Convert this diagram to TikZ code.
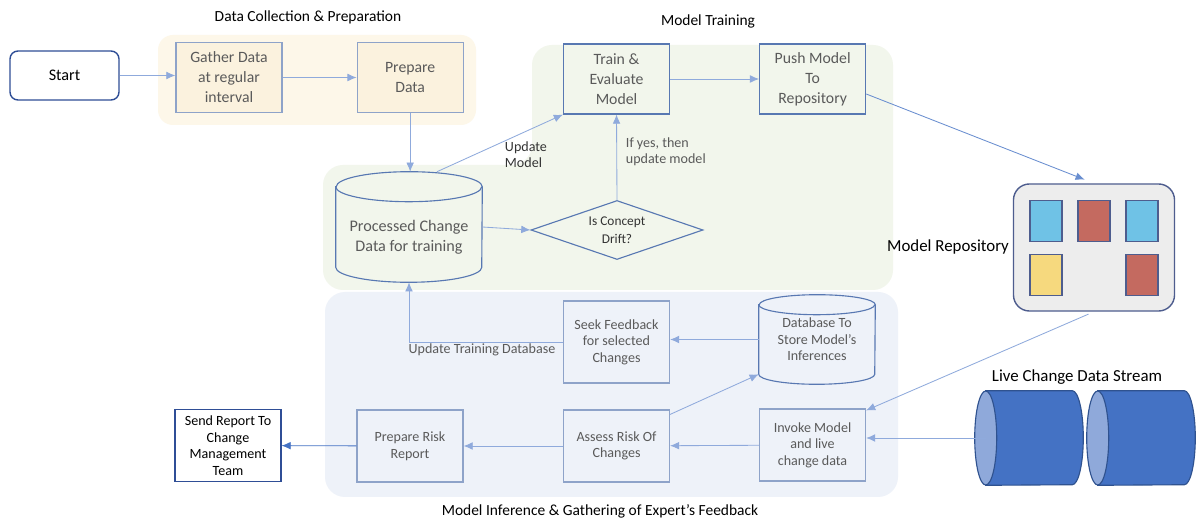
\documentclass[tikz,border=0pt]{standalone}
\usepackage{fontspec}
\setmainfont{Carlito}
\usetikzlibrary{shapes.geometric,arrows.meta,positioning,calc}
\definecolor{flowblue}{HTML}{8FAADC}
\definecolor{darkflow}{HTML}{4472C4}
\definecolor{boxline}{HTML}{8EA3C9}
\definecolor{trainline}{HTML}{5878B2}
\definecolor{txtgray}{HTML}{5A5A5A}
\definecolor{creambg}{HTML}{FDF7E9}
\definecolor{creambox}{HTML}{FBF2DE}
\definecolor{greenbg}{HTML}{F2F6EC}
\definecolor{bluebg}{HTML}{EEF2F9}
\definecolor{navy}{HTML}{2F4E96}
\definecolor{repofill}{HTML}{EDEDED}
\definecolor{repoline}{HTML}{4E5D8E}
\definecolor{skyblue}{HTML}{6FC2E6}
\definecolor{repored}{HTML}{C46A60}
\definecolor{sunyellow}{HTML}{F6D97E}
\definecolor{streamblue}{HTML}{4472C4}
\definecolor{streamface}{HTML}{8FA9DA}
\definecolor{streamline}{HTML}{2F528F}
\tikzset{%
stepbox/.style={rectangle, draw=boxline, line width=0.8pt, text=txtgray, align=center,
  minimum width=2.65cm, minimum height=1.75cm, inner sep=1pt, font=\fontsize{11.2}{14.2}\selectfont},
lowbox/.style={stepbox, minimum height=1.8cm, font=\fontsize{10}{11.8}\selectfont},
dbbox/.style={rectangle, inner sep=0pt, text=txtgray, align=center},
cylline/.style={draw=trainline, line width=0.8pt},
streamcyl/.style={draw=streamline, line width=0.8pt},
modelbox/.style={rectangle, draw=repoline, line width=0.8pt, minimum width=0.8cm, minimum height=1.025cm},
flow/.style={draw=flowblue, line width=0.6pt, -{Latex[length=6.5pt,width=5.5pt]}},
lbl/.style={text=txtgray, font=\fontsize{10}{11.5}\selectfont, align=left},
ttl/.style={font=\fontsize{11}{13}\selectfont}
}
\begin{document}
\begin{tikzpicture}[x=0.025cm, y=-0.025cm]
  \fill[white] (0,0) rectangle (1196,523);
  \useasboundingbox (0,0) rectangle (1196,523);
  % group backgrounds
  \fill[creambg, rounded corners=0.375cm] (158,35) rectangle (476,125);
  \fill[greenbg, rounded corners=0.5cm] (532,45) -- (893,45) -- (893,290) -- (323,290)
     -- (323,165) -- (532,165) -- cycle;
  \fill[bluebg, rounded corners=0.5cm] (325,292) rectangle (898,497);
  \node[ttl] (ttlprep) at (308,17) {Data Collection \& Preparation};
  \node[ttl] (ttltrain) at (708,21) {Model Training};
  \node[ttl] (ttlinfer) at (600,511) {Model Inference \& Gathering of Expert’s Feedback};

  % top row
  \node[stepbox, rounded corners=0.2cm, draw=navy, line width=1pt, text=black,
        minimum width=2.725cm, minimum height=1.225cm, fill=white,
        font=\fontsize{11.5}{14}\selectfont] (start) at (64.5,75.5) {Start};
  \node[stepbox, fill=creambox] (gather) at (229,77.5) {Gather Data\\at regular\\interval};
  \node[stepbox, fill=creambox, right=1.85cm of gather] (prepare) {Prepare\\Data};
  \node[stepbox, draw=trainline] (train) at (616.5,79) {Train \&\\Evaluate\\Model};
  \node[stepbox, draw=trainline, right=2.225cm of train] (push) {Push Model\\To\\Repository};

  % training data and drift check
  \node[dbbox, minimum width=3.65cm, minimum height=2.75cm,
        font=\fontsize{11.5}{14.2}\selectfont] (procdata) at (409,227)
        {\mbox{}\\[8.5pt]Processed Change\\Data for training};
  \node[diamond, draw=trainline, line width=0.8pt, aspect=2.9, inner sep=0pt, text=black!80,
        minimum width=4.3cm, minimum height=1.475cm, align=center,
        font=\fontsize{9.5}{12.7}\selectfont] (drift) at (617,230) {Is Concept\\Drift?};
  \node[lbl, anchor=west] (yeslbl) at (621,152) {If yes, then\\update model};
  \node[lbl, text=black!80, anchor=west] (updlbl) at (500,155) {Update\\Model};

  % repository
  \node[rectangle, rounded corners=0.4cm, draw=repoline, line width=1pt, fill=repofill,
        minimum width=4.025cm, minimum height=3.175cm] (repo) at (1094,247.5) {};
  \node[modelbox, fill=skyblue] (mod1) at (1046,221) {};
  \node[modelbox, fill=repored] (mod2) at (1094,221) {};
  \node[modelbox, fill=skyblue] (mod3) at (1142,221) {};
  \node[modelbox, fill=sunyellow] (mod4) at (1046,275) {};
  \node[modelbox, fill=repored] (mod5) at (1142,275) {};
  \node[font=\fontsize{12}{14}\selectfont] (repolbl) at (948,247) {Model Repository};

  % live stream
  \node[dbbox, minimum width=2.7cm, minimum height=2.35cm] (stream1) at (1029,438) {};
  \node[dbbox, minimum width=2.7cm, minimum height=2.35cm] (stream2) at (1141,438) {};
  \foreach \s in {stream1,stream2}{
    \draw[streamcyl, fill=streamblue] ([xshift=0.275cm]\s.north west) -- ([xshift=-0.275cm]\s.north east)
      arc[start angle=90, end angle=-90, x radius=0.275cm, y radius=1.175cm]
      -- ([xshift=0.275cm]\s.south west) -- cycle;
    \draw[streamcyl, fill=streamface] ([xshift=0.275cm]\s.west) ellipse[x radius=0.275cm, y radius=1.175cm];
  }
  \node[font=\fontsize{12}{14}\selectfont] (streamlbl) at (1077,377) {Live Change Data Stream};

  % inference row
  \node[lowbox, minimum height=2.05cm] (seek) at (616.5,342) {Seek Feedback\\for selected\\Changes};
  \node[dbbox, minimum width=2.9cm, minimum height=2.225cm,
        font=\fontsize{10}{11.8}\selectfont] (dbinf) at (817,339.5) {Database To\\Store Model’s\\Inferences};
  \foreach \n/\rx/\ry in {procdata/1.825/0.375, dbinf/1.45/0.25}{
    \draw[cylline] ([yshift=-\ry cm]\n.north west) -- ([yshift=\ry cm]\n.south west)
      arc[start angle=180, end angle=360, x radius=\rx cm, y radius=\ry cm]
      -- ([yshift=-\ry cm]\n.north east)
      arc[start angle=0, end angle=180, x radius=\rx cm, y radius=\ry cm] -- cycle;
    \draw[cylline] ([yshift=-\ry cm]\n.north west)
      arc[start angle=180, end angle=360, x radius=\rx cm, y radius=\ry cm];
  }
  \node[lowbox] (invoke) at (812.5,445) {Invoke Model\\and live\\change data};
  \node[lowbox] (assess) at (616.5,446) {Assess Risk Of\\Changes};
  \node[lowbox] (risk) at (410,446) {Prepare Risk\\Report};
  \node[lowbox, draw=navy, text=black, fill=white] (send) at (228,445.5) {Send Report To\\Change\\Management\\Team};
  \node[lbl] (updtrain) at (482,350) {Update Training Database};

  % connectors
  \draw[flow] (start.east) -- (start.east -| gather.west);
  \draw[flow] (gather) -- (prepare);
  \draw[flow] (prepare.south) -- (prepare.south |- procdata.north);
  \draw[flow] ([xshift=0.7cm]procdata.north) -- (train.south west);
  \draw[flow] (procdata.east) -- (drift.west);
  \draw[flow] (drift.north) -- (train.south);
  \draw[flow] (train) -- (push);
  \draw[flow, draw=darkflow!80, shorten >=0.25cm] ([yshift=-0.375cm]push.east) -- (repo.north);
  \draw[flow, shorten <=0.15cm] (repo.south) -- ([yshift=-0.05cm]invoke.north east);
  \draw[flow] ([xshift=0.275cm]stream1.west) -- (stream1.west -| invoke.east);
  \draw[flow] (invoke) -- (assess);
  \draw[flow] (assess) -- (risk);
  \draw[flow, draw=darkflow] (risk) -- (send);
  \draw[flow] ([yshift=-0.125cm]assess.north east) -- ([yshift=0.25cm]dbinf.south west);
  \draw[flow] (dbinf.west) -- (dbinf.west -| seek.east);
  \draw[flow] (seek.west) -| (procdata.south);
\end{tikzpicture}
\end{document}
